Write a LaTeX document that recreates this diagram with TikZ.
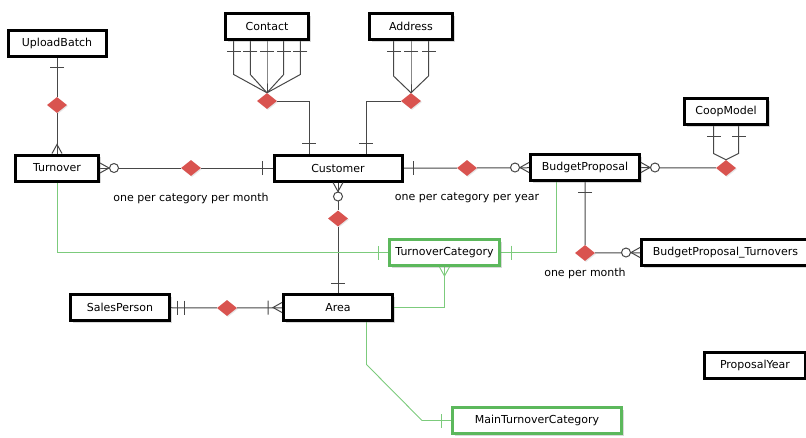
\documentclass[tikz,border=0pt]{standalone}
\usepackage{fontspec}
\setmainfont{DejaVu Sans}
\usetikzlibrary{calc,shapes.geometric,shadows,backgrounds}
\definecolor{relred}{HTML}{D9534F}
\definecolor{linegray}{HTML}{474747}
\definecolor{catgreen}{HTML}{5CB85C}
\definecolor{assocgreen}{HTML}{7CCB7C}
\tikzset{
  entity/.style={draw=black, line width=3pt, fill=white, minimum height=26pt, inner sep=0pt,
    drop shadow={shadow xshift=2pt, shadow yshift=-2pt, opacity=0.3}},
  category/.style={entity, draw=catgreen},
  relation/.style={diamond, fill=relred, minimum width=20pt, minimum height=16pt, inner sep=0pt,
    drop shadow={shadow xshift=1pt, shadow yshift=-1pt, opacity=0.2}},
  rel/.style={line width=1pt, color=linegray},
  assoc/.style={line width=0.9pt, color=assocgreen},
  note/.style={inner sep=0pt},
  one/.pic={\draw (10,-7) -- (10,7);},
  oneone/.pic={\draw (6,-7) -- (6,7) (13,-7) -- (13,7);},
  many/.pic={\draw (0,-5) -- (9,0) -- (0,5);},
  zmany/.pic={\draw (0,-5) -- (9,0) -- (0,5); \draw[fill=white] (14,0) circle (4.5);},
  omany/.pic={\draw (0,-5) -- (9,0) -- (0,5) (14,-7) -- (14,7);}
}
\begin{document}
\begin{tikzpicture}[x=1pt,y=-1pt,font=\fontsize{11}{13}\selectfont]
\useasboundingbox (0,0) rectangle (806,437);
% entities
\node[entity, minimum width=98pt] (ub) at (57,43) {UploadBatch};
\node[entity, minimum width=83pt] (contact) at (267,26.5) {Contact};
\node[entity, minimum width=83pt] (address) at (411,26.5) {Address};
\node[entity, minimum width=83pt] (tu) at (57,168) {Turnover};
\node[entity, minimum width=128pt] (cust) at (338,168) {Customer};
\node[entity, minimum width=109pt] (bp) at (585,167.5) {BudgetProposal};
\node[entity, minimum width=83pt] (coop) at (726,111.5) {CoopModel};
\node[entity, minimum width=168pt] (bpt) at (725.5,252.5) {BudgetProposal\_Turnovers};
\node[category, minimum width=110pt] (tc) at (444.5,252.5) {TurnoverCategory};
\node[entity, minimum width=109pt] (area) at (338,307.5) {Area};
\node[entity, minimum width=99pt] (sp) at (120,307.5) {SalesPerson};
\node[category, minimum width=169pt] (mtc) at (537,420.5) {MainTurnoverCategory};
\node[entity, minimum width=101pt] (py) at (755,365) {ProposalYear};
% relations
\node[relation] (d1) at (57,105) {};
\node[relation] (d2) at (191,168) {};
\node[relation] (d3) at (267,101) {};
\node[relation] (d4) at (411,101) {};
\node[relation] (d5) at (467,168) {};
\node[relation] (d6) at (726,168) {};
\node[relation] (d7) at (338,218.5) {};
\node[relation] (d8) at (585,253) {};
\node[relation] (d9) at (227,308) {};
\node[note] (n1) at (191,198) {one per category per month};
\node[note] (n2) at (467,198) {one per category per year};
\node[note] (n3) at (585,273) {one per month};
\begin{scope}[on background layer]
\draw[rel] (ub) -- (d1) -- (tu);
\draw[rel] (tu) -- (d2) -- (cust);
\draw[rel] (cust) -- (d5) -- (bp);
\draw[rel] (bp) -- (d6);
\draw[rel] (cust) -- (d7) -- (area);
\draw[rel] (bp) -- (d8) -- (bpt);
\draw[rel] (sp) -- (d9) -- (area);
\draw[rel] (d3.east) -| ($(cust.north)+(-29,0)$);
\draw[rel] (d4.west) -| ($(cust.north)+(28,0)$);
\foreach \dx in {-33.3,-16.7,0,16.7,33.3}
  \draw[rel] ($(contact.south)+(\dx,0)$) -- ++(0,33.5) -- (d3.north);
\foreach \dx in {-17.5,0,17.5}
  \draw[rel] ($(address.south)+(\dx,0)$) -- ++(0,35) -- (d4.north);
\foreach \dx in {-12.5,12.5}
  \draw[rel] ($(coop.south)+(\dx,0)$) -- ++(0,27.5) -- (d6.north);
\draw[assoc] (tu.south) |- (tc.west);
\draw[assoc] ($(bp.south)+(-28.5,0)$) |- (tc.east);
\draw[assoc] (tc.south) |- (area.east);
\draw[assoc] ($(area.south)+(28.5,0)$) -- ++(0,42.5) -- ($(mtc.west)+(-29,0)$) -- (mtc.west);
\end{scope}
% cardinalities
\path (ub.south) pic[rel,rotate=-90] {one};
\path (tu.north) pic[rel,rotate=90] {many};
\path (tu.east) pic[rel] {zmany};
\path (cust.west) pic[rel,rotate=180] {one};
\path (cust.east) pic[rel] {one};
\path (bp.west) pic[rel,rotate=180] {zmany};
\path (bp.east) pic[rel] {zmany};
\path (cust.south) pic[rel,rotate=-90] {zmany};
\path (area.north) pic[rel,rotate=90] {one};
\path (bp.south) pic[rel,rotate=-90] {one};
\path (bpt.west) pic[rel,rotate=180] {zmany};
\path (sp.east) pic[rel] {oneone};
\path (area.west) pic[rel,rotate=180] {omany};
\path ($(cust.north)+(-29,0)$) pic[rel,rotate=90] {one};
\path ($(cust.north)+(28,0)$) pic[rel,rotate=90] {one};
\foreach \dx in {-33.3,-16.7,0,16.7,33.3}
  \path ($(contact.south)+(\dx,0)$) pic[rel,rotate=-90] {one};
\foreach \dx in {-17.5,0,17.5}
  \path ($(address.south)+(\dx,0)$) pic[rel,rotate=-90] {one};
\foreach \dx in {-12.5,12.5}
  \path ($(coop.south)+(\dx,0)$) pic[rel,rotate=-90] {one};
\path (tc.west) pic[assoc,rotate=180] {one};
\path (tc.east) pic[assoc] {one};
\path (tc.south) pic[assoc,rotate=-90] {many};
\path (mtc.west) pic[assoc,rotate=180] {one};
\end{tikzpicture}
\end{document}
